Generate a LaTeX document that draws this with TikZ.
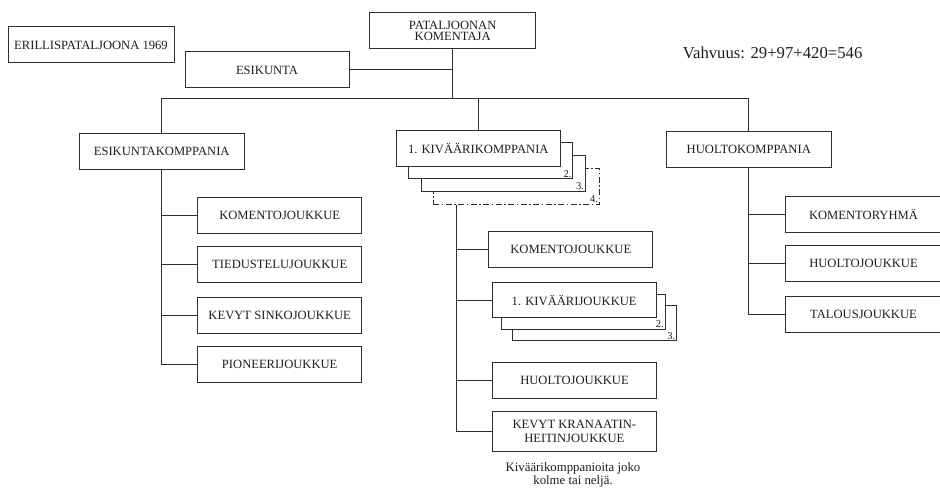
\documentclass[tikz,border=0pt]{standalone}
\usepackage{fontspec}
\setmainfont{Liberation Serif}
\usetikzlibrary{positioning}
\definecolor{linecolor}{RGB}{45,45,45}
\definecolor{textcolor}{RGB}{30,30,30}

\begin{document}
\begin{tikzpicture}[
    x=1pt, y=-1pt,
    unit/.style={draw=linecolor, fill=white, line width=1pt, minimum width=164pt, minimum height=36pt, inner sep=0pt, align=center, text=textcolor, font=\fontsize{12.6}{11}\selectfont},
    dashunit/.style={unit, dash pattern=on 6pt off 2.5pt on 1.5pt off 2.5pt},
    num/.style={anchor=south east, inner sep=1.5pt, text=textcolor, font=\fontsize{10.5}{11}\selectfont},
    link/.style={draw=linecolor, line width=1pt}
]
    \useasboundingbox (0,0) rectangle (940,495);

    % top level
    \node[unit, minimum width=166pt] (erill) at (91,45) {ERILLISPATALJOONA 1969};
    \node[unit, minimum width=165.5pt] (pk) at (452.7,31) {PATALJOONAN\\KOMENTAJA};
    \node[unit] (esik) at (267,70) {ESIKUNTA};
    \node[anchor=base west, inner sep=0pt, text=textcolor, font=\fontsize{16.7}{18}\selectfont] (vahv) at (682.7,58.3) {Vahvuus: 29+97+420=546};

    % companies
    \node[unit, minimum width=165pt] (ekk) at (161.7,151) {ESIKUNTAKOMPPANIA};
    \node[dashunit, minimum width=166pt] (kk4) at (516.3,186) {};
    \node[unit] (kk3) at (503.3,173.3) {};
    \node[unit] (kk2) at (490.8,160.8) {};
    \node[unit] (kk1) at (478.3,148) {1. KIVÄÄRIKOMPPANIA};
    \node[num] (n2) at (kk2.south east) {2.};
    \node[num] (n3) at (kk3.south east) {3.};
    \node[num] (n4) at (kk4.south east) {4.};
    \node[unit, minimum width=165.5pt] (hkk) at (748.8,149.6) {HUOLTOKOMPPANIA};

    % esikuntakomppania
    \node[unit] (lkom) at (279.7,215.3) {KOMENTOJOUKKUE};
    \node[unit] (ltied) at (279.7,264.2) {TIEDUSTELUJOUKKUE};
    \node[unit] (lsinko) at (279.7,315.3) {KEVYT SINKOJOUKKUE};
    \node[unit] (lpion) at (279.7,364.3) {PIONEERIJOUKKUE};

    % kivaarikomppania
    \node[unit] (mkom) at (570.8,249.3) {KOMENTOJOUKKUE};
    \node[unit, minimum height=35pt] (kj3) at (594.5,323.3) {};
    \node[unit, minimum height=35pt] (kj2) at (583,311.5) {};
    \node[unit, minimum height=35pt] (kj1) at (574.2,300) {1. KIVÄÄRIJOUKKUE};
    \node[num] (m2) at (kj2.south east) {2.};
    \node[num] (m3) at (kj3.south east) {3.};
    \node[unit] (mhuol) at (574.5,380) {HUOLTOJOUKKUE};
    \node[unit, minimum height=40pt] (mkran) at (574.3,431.7) {KEVYT KRANAATIN-\\[3pt]HEITINJOUKKUE};
    \node[align=center, inner sep=0pt, text=textcolor, font=\fontsize{12.8}{12.5}\selectfont] (note) at (573,475) {Kiväärikomppanioita joko\\kolme tai neljä.};

    % huoltokomppania
    \node[unit, minimum width=157pt] (rkom) at (863.5,214) {KOMENTORYHMÄ};
    \node[unit, minimum width=157pt] (rhuol) at (863.5,263) {HUOLTOJOUKKUE};
    \node[unit, minimum width=157pt] (rtal) at (863.5,314) {TALOUSJOUKKUE};

    % connectors
    \coordinate (bus) at ([yshift=-49pt]pk.south);
    \coordinate (kroot) at ([xshift=23.4pt]kk4.south west);
    \draw[link] (pk.south) -- (bus);
    \draw[link] (esik.east) -- (esik.east -| pk.south);
    \draw[link] (ekk.north) |- (bus);
    \draw[link] (hkk.north) |- (bus);
    \draw[link] (kk1.north) -- (kk1.north |- bus);
    \foreach \c in {lkom,ltied,lsinko,lpion}
        \draw[link] (ekk.south) |- (\c.west);
    \foreach \c in {mkom,kj1,mhuol,mkran}
        \draw[link] (kroot) |- (\c.west);
    \foreach \c in {rkom,rhuol,rtal}
        \draw[link] (hkk.south) |- (\c.west);
\end{tikzpicture}
\end{document}
